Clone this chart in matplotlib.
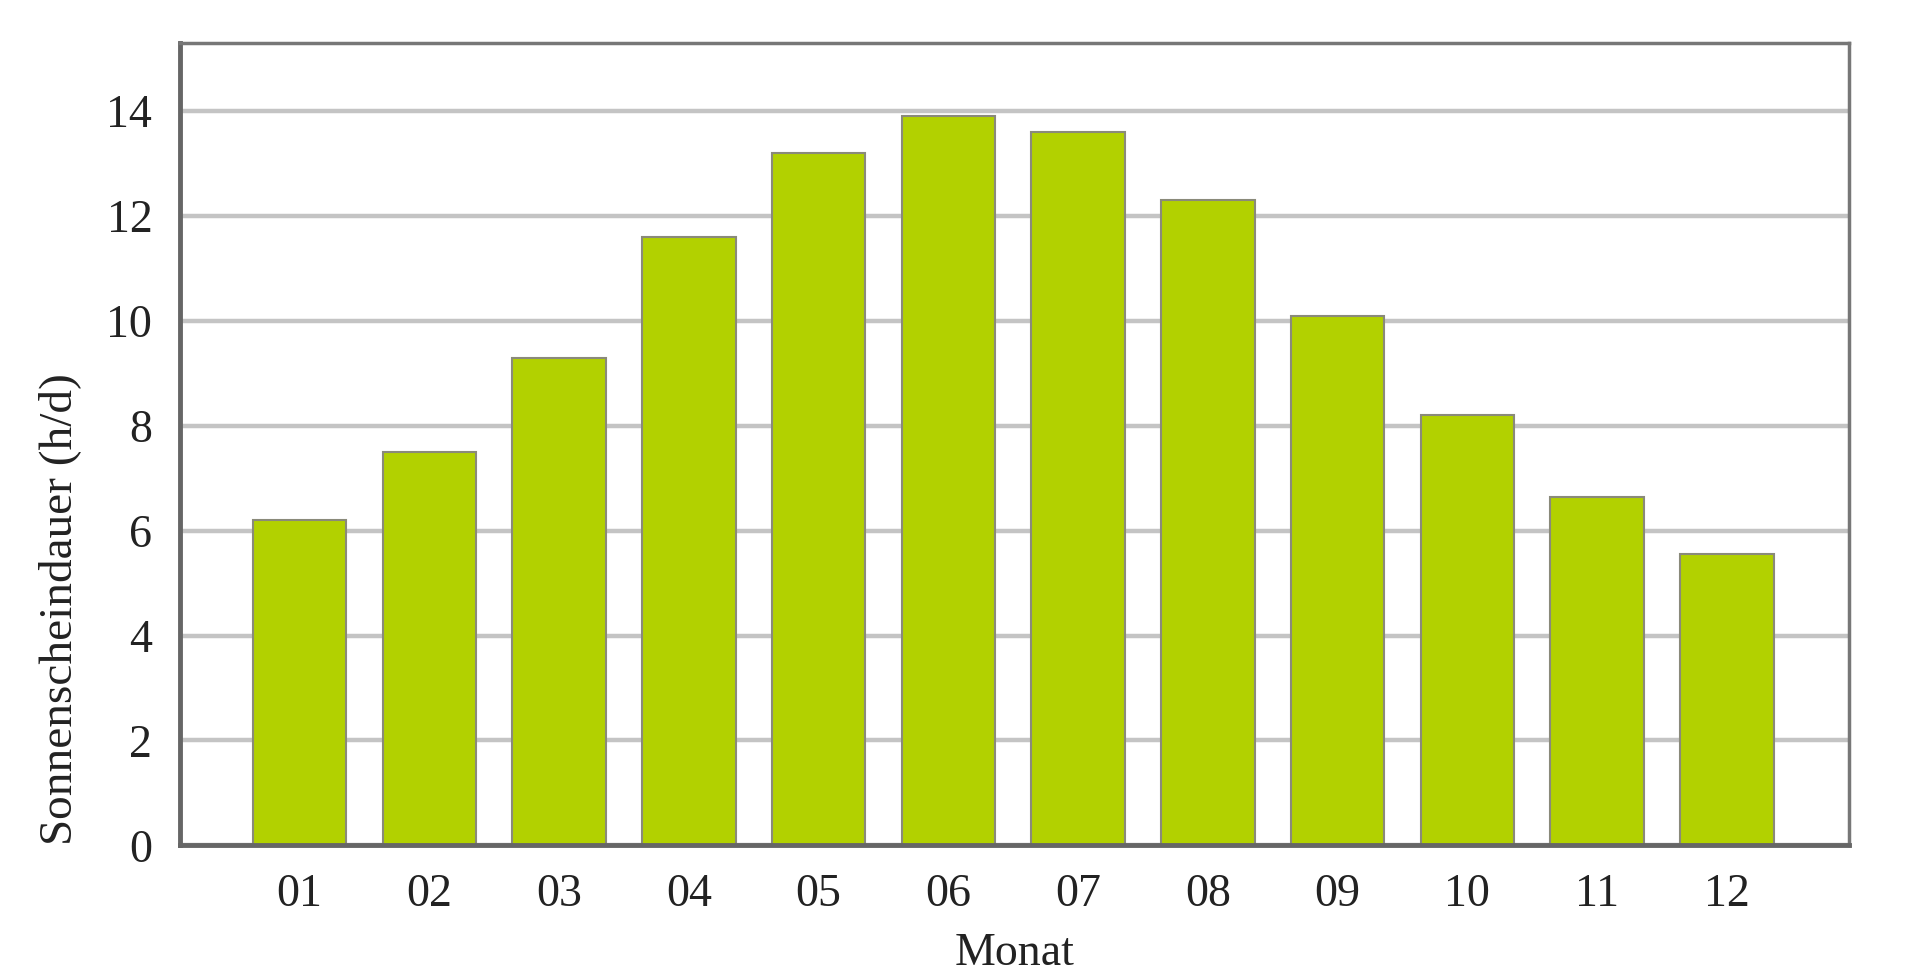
import matplotlib
matplotlib.use("Agg")
import matplotlib.pyplot as plt

months = ["01", "02", "03", "04", "05", "06", "07", "08", "09", "10", "11", "12"]
sunshine = [6.2, 7.5, 9.3, 11.6, 13.2, 13.9, 13.6, 12.3, 10.1, 8.2, 6.65, 5.55]
yticks = [0, 2, 4, 6, 8, 10, 12, 14]

plt.rcParams['font.family'] = ['Liberation Serif', 'DejaVu Serif']

fig = plt.figure(figsize=(19.2, 9.75), dpi=100)
ax = fig.add_axes([0.0938, 0.133, 0.963 - 0.0938, 0.956 - 0.133])

x = list(range(len(months)))
ax.bar(x, sunshine, width=0.72, color="#b2d100", edgecolor="#8a8a7a", linewidth=1.5, zorder=3)

ax.set_xlim(-0.92, 11.94)
ax.set_ylim(0, 15.3)
ax.set_yticks(yticks)
ax.set_xticks(x)
ax.set_xticklabels(months)
ax.yaxis.grid(True, color="#c4c4c4", linewidth=3.2, zorder=0)
ax.set_axisbelow(True)

for side in ["top", "right"]:
    ax.spines[side].set_color("#777777")
    ax.spines[side].set_linewidth(2.5)
for side in ["left", "bottom"]:
    ax.spines[side].set_color("#666666")
    ax.spines[side].set_linewidth(3.5)
ax.spines["bottom"].set_zorder(4)

ax.tick_params(axis="both", length=0, labelsize=33, colors="#222222")
ax.tick_params(axis="x", pad=20)
ax.tick_params(axis="y", pad=20)

ax.set_xlabel("Monat", fontsize=33, color="#222222", labelpad=12)
ax.set_ylabel("Sonnenscheindauer (h/d)", fontsize=34, color="#222222", va="center")
ax.yaxis.set_label_coords(-0.072, 0.294)

fig.savefig("out.png", dpi=100, facecolor="white")
